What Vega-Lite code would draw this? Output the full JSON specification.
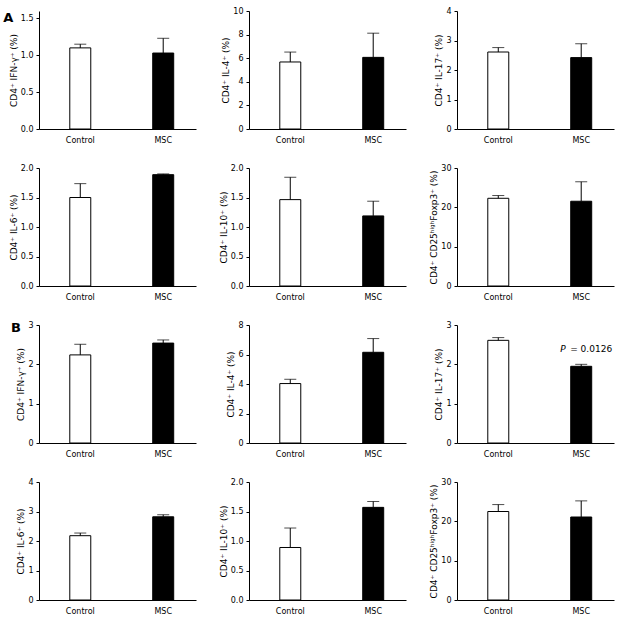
{
  "$schema": "https://vega.github.io/schema/vega-lite/v6.json",
  "background": "white",
  "padding": {"left": 3, "top": 7, "right": 5, "bottom": 5},
  "datasets": {
    "d": [
      {"panel": "A1", "group": "Control", "mean": 1.10, "upper": 1.15},
      {"panel": "A1", "group": "MSC", "mean": 1.03, "upper": 1.23},
      {"panel": "A2", "group": "Control", "mean": 5.68, "upper": 6.52},
      {"panel": "A2", "group": "MSC", "mean": 6.07, "upper": 8.12},
      {"panel": "A3", "group": "Control", "mean": 2.61, "upper": 2.76},
      {"panel": "A3", "group": "MSC", "mean": 2.42, "upper": 2.89},
      {"panel": "A4", "group": "Control", "mean": 1.50, "upper": 1.735},
      {"panel": "A4", "group": "MSC", "mean": 1.887, "upper": 1.90},
      {"panel": "A5", "group": "Control", "mean": 1.464, "upper": 1.843},
      {"panel": "A5", "group": "MSC", "mean": 1.188, "upper": 1.437},
      {"panel": "A6", "group": "Control", "mean": 22.3, "upper": 23.0},
      {"panel": "A6", "group": "MSC", "mean": 21.55, "upper": 26.5},
      {"panel": "B1", "group": "Control", "mean": 2.24, "upper": 2.51},
      {"panel": "B1", "group": "MSC", "mean": 2.54, "upper": 2.62},
      {"panel": "B2", "group": "Control", "mean": 4.03, "upper": 4.32},
      {"panel": "B2", "group": "MSC", "mean": 6.15, "upper": 7.08},
      {"panel": "B3", "group": "Control", "mean": 2.61, "upper": 2.68},
      {"panel": "B3", "group": "MSC", "mean": 1.95, "upper": 2.0, "label": "= 0.0126"},
      {"panel": "B4", "group": "Control", "mean": 2.18, "upper": 2.27},
      {"panel": "B4", "group": "MSC", "mean": 2.82, "upper": 2.89},
      {"panel": "B5", "group": "Control", "mean": 0.89, "upper": 1.22},
      {"panel": "B5", "group": "MSC", "mean": 1.57, "upper": 1.67},
      {"panel": "B6", "group": "Control", "mean": 22.5, "upper": 24.26},
      {"panel": "B6", "group": "MSC", "mean": 21.1, "upper": 25.2}
    ]
  },
  "data": {"name": "d"},
  "columns": 3,
  "spacing": {"row": 20, "column": 23},
  "resolve": {"scale": {"x": "independent", "y": "independent"}, "axis": {"x": "independent", "y": "independent"}},
  "config": {
    "view": {"stroke": null},
    "font": "DejaVu Sans",
    "axis": {"labelFont": "DejaVu Sans", "titleFont": "DejaVu Sans", "labelColor": "black", "titleColor": "black", "domainColor": "black", "tickColor": "black", "grid": false, "labelFontSize": 8, "titleFontSize": 9, "titleFontWeight": "normal", "labelOverlap": false},
    "axisX": {"ticks": false, "labelPadding": 7, "labelAngle": 0, "title": null},
    "axisY": {"tickSize": 3, "labelPadding": 3, "titlePadding": 2},
    "title": {"font": "DejaVu Sans", "fontSize": 13, "fontWeight": "bold", "anchor": "start", "frame": "bounds"}
  },
  "concat": [
    {
      "title": {"text": "A", "offset": -14, "dx": -6},
      "width": 157, "height": 118,
      "transform": [{"filter": "datum.panel == 'A1'"}],
      "encoding": {"x": {"field": "group", "type": "nominal", "sort": ["Control", "MSC"], "scale": {"paddingInner": 0.747, "paddingOuter": 0.32, "align": 0.58}}},
      "layer": [
        {"mark": {"type": "bar", "stroke": "black", "strokeWidth": 1}, "encoding": {"y": {"field": "mean", "type": "quantitative", "scale": {"domain": [0, 1.5]}, "axis": {"title": "CD4⁺ IFN-γ⁺ (%)", "values": [0, 0.5, 1, 1.5], "format": ".1f"}}, "fill": {"field": "group", "type": "nominal", "scale": {"domain": ["Control", "MSC"], "range": ["white", "black"]}, "legend": null}}},
        {"mark": {"type": "rule", "color": "black"}, "encoding": {"y": {"field": "mean", "type": "quantitative", "axis": {"title": "CD4⁺ IFN-γ⁺ (%)", "values": [0, 0.5, 1, 1.5], "format": ".1f"}}, "y2": {"field": "upper"}}},
        {"mark": {"type": "tick", "color": "black", "thickness": 1, "size": 12}, "encoding": {"y": {"field": "upper", "type": "quantitative", "axis": {"title": "CD4⁺ IFN-γ⁺ (%)", "values": [0, 0.5, 1, 1.5], "format": ".1f"}}}}
      ]
    },
    {
      "width": 157, "height": 118,
      "transform": [{"filter": "datum.panel == 'A2'"}],
      "encoding": {"x": {"field": "group", "type": "nominal", "sort": ["Control", "MSC"], "scale": {"paddingInner": 0.747, "paddingOuter": 0.32, "align": 0.58}}},
      "layer": [
        {"mark": {"type": "bar", "stroke": "black", "strokeWidth": 1}, "encoding": {"y": {"field": "mean", "type": "quantitative", "scale": {"domain": [0, 10]}, "axis": {"title": "CD4⁺ IL-4⁺ (%)", "values": [0, 2, 4, 6, 8, 10], "format": "d"}}, "fill": {"field": "group", "type": "nominal", "scale": {"domain": ["Control", "MSC"], "range": ["white", "black"]}, "legend": null}}},
        {"mark": {"type": "rule", "color": "black"}, "encoding": {"y": {"field": "mean", "type": "quantitative", "axis": {"title": "CD4⁺ IL-4⁺ (%)", "values": [0, 2, 4, 6, 8, 10], "format": "d"}}, "y2": {"field": "upper"}}},
        {"mark": {"type": "tick", "color": "black", "thickness": 1, "size": 12}, "encoding": {"y": {"field": "upper", "type": "quantitative", "axis": {"title": "CD4⁺ IL-4⁺ (%)", "values": [0, 2, 4, 6, 8, 10], "format": "d"}}}}
      ]
    },
    {
      "width": 157, "height": 118,
      "transform": [{"filter": "datum.panel == 'A3'"}],
      "encoding": {"x": {"field": "group", "type": "nominal", "sort": ["Control", "MSC"], "scale": {"paddingInner": 0.747, "paddingOuter": 0.32, "align": 0.58}}},
      "layer": [
        {"mark": {"type": "bar", "stroke": "black", "strokeWidth": 1}, "encoding": {"y": {"field": "mean", "type": "quantitative", "scale": {"domain": [0, 4]}, "axis": {"title": "CD4⁺ IL-17⁺ (%)", "values": [0, 1, 2, 3, 4], "format": "d"}}, "fill": {"field": "group", "type": "nominal", "scale": {"domain": ["Control", "MSC"], "range": ["white", "black"]}, "legend": null}}},
        {"mark": {"type": "rule", "color": "black"}, "encoding": {"y": {"field": "mean", "type": "quantitative", "axis": {"title": "CD4⁺ IL-17⁺ (%)", "values": [0, 1, 2, 3, 4], "format": "d"}}, "y2": {"field": "upper"}}},
        {"mark": {"type": "tick", "color": "black", "thickness": 1, "size": 12}, "encoding": {"y": {"field": "upper", "type": "quantitative", "axis": {"title": "CD4⁺ IL-17⁺ (%)", "values": [0, 1, 2, 3, 4], "format": "d"}}}}
      ]
    },
    {
      "width": 157, "height": 118,
      "transform": [{"filter": "datum.panel == 'A4'"}],
      "encoding": {"x": {"field": "group", "type": "nominal", "sort": ["Control", "MSC"], "scale": {"paddingInner": 0.747, "paddingOuter": 0.32, "align": 0.58}}},
      "layer": [
        {"mark": {"type": "bar", "stroke": "black", "strokeWidth": 1}, "encoding": {"y": {"field": "mean", "type": "quantitative", "scale": {"domain": [0, 2]}, "axis": {"title": "CD4⁺ IL-6⁺ (%)", "values": [0, 0.5, 1, 1.5, 2], "format": ".1f"}}, "fill": {"field": "group", "type": "nominal", "scale": {"domain": ["Control", "MSC"], "range": ["white", "black"]}, "legend": null}}},
        {"mark": {"type": "rule", "color": "black"}, "encoding": {"y": {"field": "mean", "type": "quantitative", "axis": {"title": "CD4⁺ IL-6⁺ (%)", "values": [0, 0.5, 1, 1.5, 2], "format": ".1f"}}, "y2": {"field": "upper"}}},
        {"mark": {"type": "tick", "color": "black", "thickness": 1, "size": 12}, "encoding": {"y": {"field": "upper", "type": "quantitative", "axis": {"title": "CD4⁺ IL-6⁺ (%)", "values": [0, 0.5, 1, 1.5, 2], "format": ".1f"}}}}
      ]
    },
    {
      "width": 157, "height": 118,
      "transform": [{"filter": "datum.panel == 'A5'"}],
      "encoding": {"x": {"field": "group", "type": "nominal", "sort": ["Control", "MSC"], "scale": {"paddingInner": 0.747, "paddingOuter": 0.32, "align": 0.58}}},
      "layer": [
        {"mark": {"type": "bar", "stroke": "black", "strokeWidth": 1}, "encoding": {"y": {"field": "mean", "type": "quantitative", "scale": {"domain": [0, 2]}, "axis": {"title": "CD4⁺ IL-10⁺ (%)", "values": [0, 0.5, 1, 1.5, 2], "format": ".1f"}}, "fill": {"field": "group", "type": "nominal", "scale": {"domain": ["Control", "MSC"], "range": ["white", "black"]}, "legend": null}}},
        {"mark": {"type": "rule", "color": "black"}, "encoding": {"y": {"field": "mean", "type": "quantitative", "axis": {"title": "CD4⁺ IL-10⁺ (%)", "values": [0, 0.5, 1, 1.5, 2], "format": ".1f"}}, "y2": {"field": "upper"}}},
        {"mark": {"type": "tick", "color": "black", "thickness": 1, "size": 12}, "encoding": {"y": {"field": "upper", "type": "quantitative", "axis": {"title": "CD4⁺ IL-10⁺ (%)", "values": [0, 0.5, 1, 1.5, 2], "format": ".1f"}}}}
      ]
    },
    {
      "width": 157, "height": 118,
      "transform": [{"filter": "datum.panel == 'A6'"}],
      "encoding": {"x": {"field": "group", "type": "nominal", "sort": ["Control", "MSC"], "scale": {"paddingInner": 0.747, "paddingOuter": 0.32, "align": 0.58}}},
      "layer": [
        {"mark": {"type": "bar", "stroke": "black", "strokeWidth": 1}, "encoding": {"y": {"field": "mean", "type": "quantitative", "scale": {"domain": [0, 30]}, "axis": {"title": "CD4⁺ CD25ʰⁱᵍʰFoxp3⁺ (%)", "values": [0, 10, 20, 30], "format": "d"}}, "fill": {"field": "group", "type": "nominal", "scale": {"domain": ["Control", "MSC"], "range": ["white", "black"]}, "legend": null}}},
        {"mark": {"type": "rule", "color": "black"}, "encoding": {"y": {"field": "mean", "type": "quantitative", "axis": {"title": "CD4⁺ CD25ʰⁱᵍʰFoxp3⁺ (%)", "values": [0, 10, 20, 30], "format": "d"}}, "y2": {"field": "upper"}}},
        {"mark": {"type": "tick", "color": "black", "thickness": 1, "size": 12}, "encoding": {"y": {"field": "upper", "type": "quantitative", "axis": {"title": "CD4⁺ CD25ʰⁱᵍʰFoxp3⁺ (%)", "values": [0, 10, 20, 30], "format": "d"}}}}
      ]
    },
    {
      "title": {"text": "B", "offset": -14, "dx": -6},
      "width": 157, "height": 118,
      "transform": [{"filter": "datum.panel == 'B1'"}],
      "encoding": {"x": {"field": "group", "type": "nominal", "sort": ["Control", "MSC"], "scale": {"paddingInner": 0.747, "paddingOuter": 0.32, "align": 0.58}}},
      "layer": [
        {"mark": {"type": "bar", "stroke": "black", "strokeWidth": 1}, "encoding": {"y": {"field": "mean", "type": "quantitative", "scale": {"domain": [0, 3]}, "axis": {"title": "CD4⁺ IFN-γ⁺ (%)", "values": [0, 1, 2, 3], "format": "d"}}, "fill": {"field": "group", "type": "nominal", "scale": {"domain": ["Control", "MSC"], "range": ["white", "black"]}, "legend": null}}},
        {"mark": {"type": "rule", "color": "black"}, "encoding": {"y": {"field": "mean", "type": "quantitative", "axis": {"title": "CD4⁺ IFN-γ⁺ (%)", "values": [0, 1, 2, 3], "format": "d"}}, "y2": {"field": "upper"}}},
        {"mark": {"type": "tick", "color": "black", "thickness": 1, "size": 12}, "encoding": {"y": {"field": "upper", "type": "quantitative", "axis": {"title": "CD4⁺ IFN-γ⁺ (%)", "values": [0, 1, 2, 3], "format": "d"}}}}
      ]
    },
    {
      "width": 157, "height": 118,
      "transform": [{"filter": "datum.panel == 'B2'"}],
      "encoding": {"x": {"field": "group", "type": "nominal", "sort": ["Control", "MSC"], "scale": {"paddingInner": 0.747, "paddingOuter": 0.32, "align": 0.58}}},
      "layer": [
        {"mark": {"type": "bar", "stroke": "black", "strokeWidth": 1}, "encoding": {"y": {"field": "mean", "type": "quantitative", "scale": {"domain": [0, 8]}, "axis": {"title": "CD4⁺ IL-4⁺ (%)", "values": [0, 2, 4, 6, 8], "format": "d"}}, "fill": {"field": "group", "type": "nominal", "scale": {"domain": ["Control", "MSC"], "range": ["white", "black"]}, "legend": null}}},
        {"mark": {"type": "rule", "color": "black"}, "encoding": {"y": {"field": "mean", "type": "quantitative", "axis": {"title": "CD4⁺ IL-4⁺ (%)", "values": [0, 2, 4, 6, 8], "format": "d"}}, "y2": {"field": "upper"}}},
        {"mark": {"type": "tick", "color": "black", "thickness": 1, "size": 12}, "encoding": {"y": {"field": "upper", "type": "quantitative", "axis": {"title": "CD4⁺ IL-4⁺ (%)", "values": [0, 2, 4, 6, 8], "format": "d"}}}}
      ]
    },
    {
      "width": 157, "height": 118,
      "transform": [{"filter": "datum.panel == 'B3'"}],
      "encoding": {"x": {"field": "group", "type": "nominal", "sort": ["Control", "MSC"], "scale": {"paddingInner": 0.747, "paddingOuter": 0.32, "align": 0.58}}},
      "layer": [
        {"mark": {"type": "bar", "stroke": "black", "strokeWidth": 1}, "encoding": {"y": {"field": "mean", "type": "quantitative", "scale": {"domain": [0, 3]}, "axis": {"title": "CD4⁺ IL-17⁺ (%)", "values": [0, 1, 2, 3], "format": "d"}}, "fill": {"field": "group", "type": "nominal", "scale": {"domain": ["Control", "MSC"], "range": ["white", "black"]}, "legend": null}}},
        {"mark": {"type": "rule", "color": "black"}, "encoding": {"y": {"field": "mean", "type": "quantitative", "axis": {"title": "CD4⁺ IL-17⁺ (%)", "values": [0, 1, 2, 3], "format": "d"}}, "y2": {"field": "upper"}}},
        {"mark": {"type": "tick", "color": "black", "thickness": 1, "size": 12}, "encoding": {"y": {"field": "upper", "type": "quantitative", "axis": {"title": "CD4⁺ IL-17⁺ (%)", "values": [0, 1, 2, 3], "format": "d"}}}},
        {"transform": [{"filter": "isValid(datum.label)"}], "mark": {"type": "text", "font": "DejaVu Sans", "fontSize": 9, "fontStyle": "italic", "align": "left", "dx": -21, "dy": -15, "color": "black"}, "encoding": {"y": {"field": "upper", "type": "quantitative", "axis": {"title": "CD4⁺ IL-17⁺ (%)", "values": [0, 1, 2, 3], "format": "d"}}, "text": {"value": "P"}}},
        {"transform": [{"filter": "isValid(datum.label)"}], "mark": {"type": "text", "font": "DejaVu Sans", "fontSize": 9, "align": "left", "dx": -11, "dy": -15, "color": "black"}, "encoding": {"y": {"field": "upper", "type": "quantitative", "axis": {"title": "CD4⁺ IL-17⁺ (%)", "values": [0, 1, 2, 3], "format": "d"}}, "text": {"field": "label"}}}
      ]
    },
    {
      "width": 157, "height": 118,
      "transform": [{"filter": "datum.panel == 'B4'"}],
      "encoding": {"x": {"field": "group", "type": "nominal", "sort": ["Control", "MSC"], "scale": {"paddingInner": 0.747, "paddingOuter": 0.32, "align": 0.58}}},
      "layer": [
        {"mark": {"type": "bar", "stroke": "black", "strokeWidth": 1}, "encoding": {"y": {"field": "mean", "type": "quantitative", "scale": {"domain": [0, 4]}, "axis": {"title": "CD4⁺ IL-6⁺ (%)", "values": [0, 1, 2, 3, 4], "format": "d"}}, "fill": {"field": "group", "type": "nominal", "scale": {"domain": ["Control", "MSC"], "range": ["white", "black"]}, "legend": null}}},
        {"mark": {"type": "rule", "color": "black"}, "encoding": {"y": {"field": "mean", "type": "quantitative", "axis": {"title": "CD4⁺ IL-6⁺ (%)", "values": [0, 1, 2, 3, 4], "format": "d"}}, "y2": {"field": "upper"}}},
        {"mark": {"type": "tick", "color": "black", "thickness": 1, "size": 12}, "encoding": {"y": {"field": "upper", "type": "quantitative", "axis": {"title": "CD4⁺ IL-6⁺ (%)", "values": [0, 1, 2, 3, 4], "format": "d"}}}}
      ]
    },
    {
      "width": 157, "height": 118,
      "transform": [{"filter": "datum.panel == 'B5'"}],
      "encoding": {"x": {"field": "group", "type": "nominal", "sort": ["Control", "MSC"], "scale": {"paddingInner": 0.747, "paddingOuter": 0.32, "align": 0.58}}},
      "layer": [
        {"mark": {"type": "bar", "stroke": "black", "strokeWidth": 1}, "encoding": {"y": {"field": "mean", "type": "quantitative", "scale": {"domain": [0, 2]}, "axis": {"title": "CD4⁺ IL-10⁺ (%)", "values": [0, 0.5, 1, 1.5, 2], "format": ".1f"}}, "fill": {"field": "group", "type": "nominal", "scale": {"domain": ["Control", "MSC"], "range": ["white", "black"]}, "legend": null}}},
        {"mark": {"type": "rule", "color": "black"}, "encoding": {"y": {"field": "mean", "type": "quantitative", "axis": {"title": "CD4⁺ IL-10⁺ (%)", "values": [0, 0.5, 1, 1.5, 2], "format": ".1f"}}, "y2": {"field": "upper"}}},
        {"mark": {"type": "tick", "color": "black", "thickness": 1, "size": 12}, "encoding": {"y": {"field": "upper", "type": "quantitative", "axis": {"title": "CD4⁺ IL-10⁺ (%)", "values": [0, 0.5, 1, 1.5, 2], "format": ".1f"}}}}
      ]
    },
    {
      "width": 157, "height": 118,
      "transform": [{"filter": "datum.panel == 'B6'"}],
      "encoding": {"x": {"field": "group", "type": "nominal", "sort": ["Control", "MSC"], "scale": {"paddingInner": 0.747, "paddingOuter": 0.32, "align": 0.58}}},
      "layer": [
        {"mark": {"type": "bar", "stroke": "black", "strokeWidth": 1}, "encoding": {"y": {"field": "mean", "type": "quantitative", "scale": {"domain": [0, 30]}, "axis": {"title": "CD4⁺ CD25ʰⁱᵍʰFoxp3⁺ (%)", "values": [0, 10, 20, 30], "format": "d"}}, "fill": {"field": "group", "type": "nominal", "scale": {"domain": ["Control", "MSC"], "range": ["white", "black"]}, "legend": null}}},
        {"mark": {"type": "rule", "color": "black"}, "encoding": {"y": {"field": "mean", "type": "quantitative", "axis": {"title": "CD4⁺ CD25ʰⁱᵍʰFoxp3⁺ (%)", "values": [0, 10, 20, 30], "format": "d"}}, "y2": {"field": "upper"}}},
        {"mark": {"type": "tick", "color": "black", "thickness": 1, "size": 12}, "encoding": {"y": {"field": "upper", "type": "quantitative", "axis": {"title": "CD4⁺ CD25ʰⁱᵍʰFoxp3⁺ (%)", "values": [0, 10, 20, 30], "format": "d"}}}}
      ]
    }
  ]
}
